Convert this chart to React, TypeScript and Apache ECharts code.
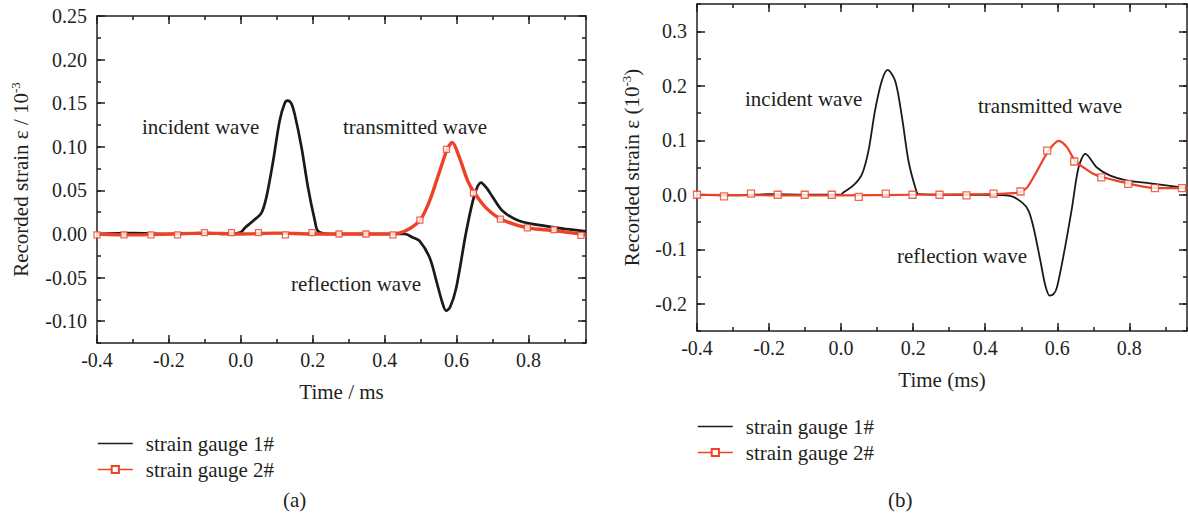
import React, { useEffect, useRef } from 'react';
import * as echarts from 'echarts';

// ---------- data ----------
const xTickValues = [-0.4, -0.2, 0.0, 0.2, 0.4, 0.6, 0.8];
const yTickValuesA = [-0.1, -0.05, 0.0, 0.05, 0.1, 0.15, 0.2, 0.25];
const yTickValuesB = [-0.2, -0.1, 0.0, 0.1, 0.2, 0.3];

// panel (a)
const gauge1TimeA = [-0.4, -0.3, -0.2, -0.1, -0.03, 0.0, 0.011, 0.034, 0.057, 0.071, 0.09, 0.108, 0.122, 0.13, 0.14, 0.15, 0.169, 0.187, 0.206, 0.215, 0.25, 0.35, 0.456, 0.478, 0.497, 0.525, 0.544, 0.56, 0.571, 0.582, 0.599, 0.627, 0.65, 0.668, 0.685, 0.701, 0.729, 0.775, 0.849, 0.9, 0.96];
const gauge1StrainA = [0, 0.001, 0, 0.001, 0, 0.002, 0.007, 0.015, 0.024, 0.042, 0.084, 0.13, 0.15, 0.153, 0.15, 0.137, 0.099, 0.053, 0.015, 0.003, 0, 0, 0, -0.004, -0.008, -0.027, -0.054, -0.078, -0.088, -0.084, -0.062, 0.003, 0.045, 0.059, 0.052, 0.042, 0.026, 0.015, 0.009, 0.006, 0.003];
const gauge2TimeA = [-0.4, -0.3, -0.2, -0.1, 0.0, 0.1, 0.2, 0.3, 0.4, 0.44, 0.469, 0.499, 0.525, 0.553, 0.574, 0.588, 0.608, 0.631, 0.65, 0.682, 0.724, 0.798, 0.872, 0.96];
const gauge2StrainA = [0, -0.001, 0, 0.001, 0, 0.001, 0, 0, 0, 0.001, 0.006, 0.016, 0.038, 0.072, 0.097, 0.105, 0.0875, 0.061, 0.047, 0.03, 0.017, 0.007, 0.004, -0.001];
const markerTimeA = [-0.4, -0.325, -0.25, -0.176, -0.101, -0.026, 0.049, 0.124, 0.198, 0.273, 0.348, 0.423, 0.498, 0.572, 0.647, 0.722, 0.797, 0.871, 0.946];
const markerStrainA = [-0.001, -0.001, -0.001, -0.001, 0.0015, 0.0015, 0.0015, -0.001, 0.0015, 0, 0, -0.001, 0.016, 0.097, 0.047, 0.017, 0.007, 0.005, -0.0015];

// panel (b)
const gauge1TimeB = [-0.4, -0.3, -0.2, -0.1, 0.0, 0.006, 0.034, 0.058, 0.076, 0.094, 0.113, 0.129, 0.15, 0.169, 0.187, 0.206, 0.215, 0.3, 0.4, 0.469, 0.502, 0.52, 0.534, 0.553, 0.567, 0.579, 0.59, 0.599, 0.618, 0.641, 0.659, 0.678, 0.71, 0.747, 0.794, 0.858, 0.96];
const gauge1StrainB = [0, -0.001, 0.001, 0, 0, 0.004, 0.017, 0.038, 0.081, 0.154, 0.209, 0.229, 0.209, 0.142, 0.062, 0.013, 0.001, 0, 0, -0.002, -0.014, -0.029, -0.06, -0.121, -0.167, -0.185, -0.182, -0.17, -0.109, -0.023, 0.05, 0.075, 0.05, 0.035, 0.026, 0.021, 0.012];
const gauge2TimeB = [-0.4, -0.2, 0.0, 0.2, 0.4, 0.48, 0.5, 0.516, 0.544, 0.576, 0.604, 0.627, 0.65, 0.673, 0.701, 0.727, 0.801, 0.877, 0.96];
const gauge2StrainB = [0, -0.001, -0.001, 0, 0.001, 0.003, 0.006, 0.013, 0.044, 0.081, 0.099, 0.087, 0.061, 0.05, 0.038, 0.032, 0.02, 0.012, 0.012];
const markerTimeB = [-0.4, -0.325, -0.25, -0.176, -0.101, -0.026, 0.049, 0.124, 0.198, 0.273, 0.348, 0.423, 0.498, 0.572, 0.647, 0.722, 0.797, 0.871, 0.946];
const markerStrainB = [0, -0.003, 0.002, 0, 0, 0, -0.004, 0.002, 0, 0, -0.001, 0.002, 0.006, 0.081, 0.061, 0.032, 0.02, 0.012, 0.012];

const seriesNames = ['strain gauge 1#', 'strain gauge 2#'];

// ---------- styles ----------
const FONT = 'Liberation Serif';
const INK = '#231f20';
const BLACK = '#1a1a1a';
const RED = '#ee4227';

const zip = (xs: number[], ys: number[]) => xs.map((x, i) => [x, ys[i]]);

function majorX(gridIndex: number, position: 'top' | 'bottom', withLabel: boolean, name?: string, nameGap?: number) {
  return {
    gridIndex, type: 'value', position, min: -0.4, max: 0.96,
    axisLine: { show: true, onZero: false, lineStyle: { color: INK, width: 1.5 } },
    axisTick: { show: true, inside: true, length: 8, customValues: xTickValues, lineStyle: { color: INK, width: 1.5 } },
    axisLabel: {
      show: withLabel, customValues: xTickValues, margin: 7,
      formatter: (v: number) => v.toFixed(1),
      fontFamily: FONT, fontSize: 20, color: INK,
    },
    splitLine: { show: false },
    name: name || '', nameLocation: 'middle', nameGap: nameGap || 0,
    nameTextStyle: { fontFamily: FONT, fontSize: 21, color: INK },
  };
}
function minorX(gridIndex: number, position: 'top' | 'bottom') {
  return {
    gridIndex, type: 'value', position, min: -0.4, max: 0.96, interval: 0.1,
    axisLine: { show: false, onZero: false },
    axisTick: { show: true, inside: true, length: 4, lineStyle: { color: INK, width: 1.5 } },
    axisLabel: { show: false }, splitLine: { show: false },
  };
}
function majorY(gridIndex: number, position: 'left' | 'right', min: number, max: number, ticks: number[], digits: number, withLabel: boolean, name?: string, nameGap?: number) {
  return {
    gridIndex, type: 'value', position, min, max,
    axisLine: { show: true, onZero: false, lineStyle: { color: INK, width: 1.5 } },
    axisTick: { show: true, inside: true, length: 8, customValues: ticks, lineStyle: { color: INK, width: 1.5 } },
    axisLabel: {
      show: withLabel, customValues: ticks, margin: 10,
      formatter: (v: number) => v.toFixed(digits),
      fontFamily: FONT, fontSize: 20, color: INK,
    },
    splitLine: { show: false },
    name: name || '', nameLocation: 'middle', nameGap: nameGap || 0, nameRotate: 90,
    nameTextStyle: {
      fontFamily: FONT, fontSize: 21, color: INK,
      rich: { sup: { fontFamily: FONT, fontSize: 13, color: INK, verticalAlign: 'top', padding: [0, 0, 10, 0] } },
    },
  };
}
function minorY(gridIndex: number, position: 'left' | 'right', min: number, max: number, interval: number) {
  return {
    gridIndex, type: 'value', position, min, max, interval,
    axisLine: { show: false, onZero: false },
    axisTick: { show: true, inside: true, length: 4, lineStyle: { color: INK, width: 1.5 } },
    axisLabel: { show: false }, splitLine: { show: false },
  };
}

export default function App() {
  const ref = useRef<HTMLDivElement>(null);
  useEffect(() => {
    const chart = echarts.init(ref.current!, undefined, { renderer: 'svg' });
    const gA = { left: 97, top: 16, width: 489, height: 327, outerBoundsMode: 'none' };
    const gB = { left: 697, top: 4, width: 490, height: 327, outerBoundsMode: 'none' };

    const redItem = { color: '#ffffff', borderColor: RED, borderWidth: 1.3 };
    const text = (t: string, x: number, y: number) => ({
      type: 'text', x, y,
      style: { text: t, fontFamily: FONT, fontSize: 21, fill: INK, verticalAlign: 'middle', align: 'left' },
    });
    const legend = (left: number, top: number) => ({
      left, top, orient: 'vertical', itemWidth: 35, itemHeight: 9, itemGap: 5, padding: 0,
      selectedMode: false,
      lineStyle: { width: 1.6 },
      data: [
        { name: seriesNames[0], itemStyle: { opacity: 0 } },
        { name: seriesNames[1] },
      ],
      textStyle: { fontFamily: FONT, fontSize: 21, color: INK, lineHeight: 21, padding: [0, 0, 0, 8] },
    });

    chart.setOption({
      animation: false,
      backgroundColor: '#ffffff',
      grid: [gA, gA, gB, gB],
      xAxis: [
        majorX(0, 'bottom', true, 'Time / ms', 38),
        majorX(0, 'top', false),
        minorX(1, 'bottom'),
        minorX(1, 'top'),
        majorX(2, 'bottom', true, 'Time (ms)', 38),
        majorX(2, 'top', false),
        minorX(3, 'bottom'),
        minorX(3, 'top'),
      ],
      yAxis: [
        majorY(0, 'left', -0.125, 0.25, yTickValuesA, 2, true, 'Recorded strain ε / 10{sup|-3}', 65),
        majorY(0, 'right', -0.125, 0.25, yTickValuesA, 2, false),
        minorY(1, 'left', -0.125, 0.25, 0.025),
        minorY(1, 'right', -0.125, 0.25, 0.025),
        majorY(2, 'left', -0.25, 0.35, yTickValuesB, 1, true, 'Recorded strain ε (10{sup|-3})', 54),
        majorY(2, 'right', -0.25, 0.35, yTickValuesB, 1, false),
        minorY(3, 'left', -0.25, 0.35, 0.05),
        minorY(3, 'right', -0.25, 0.35, 0.05),
      ],
      legend: [legend(97, 433), legend(697, 416)],
      series: [
        {
          name: seriesNames[0], type: 'line', xAxisIndex: 0, yAxisIndex: 0,
          data: zip(gauge1TimeA, gauge1StrainA), symbol: 'none', smooth: 0.3,
          color: BLACK, lineStyle: { color: BLACK, width: 2.7 }, z: 2,
        },
        {
          name: seriesNames[1], type: 'line', xAxisIndex: 0, yAxisIndex: 0,
          data: zip(gauge2TimeA, gauge2StrainA), symbol: 'rect', symbolSize: 7, showSymbol: false, smooth: 0.3,
          color: RED, itemStyle: redItem, lineStyle: { color: RED, width: 3.4 }, z: 3,
        },
        {
          name: 'gauge 2# markers (a)', type: 'scatter', xAxisIndex: 0, yAxisIndex: 0,
          data: zip(markerTimeA, markerStrainA), symbol: 'rect', symbolSize: 6,
          itemStyle: redItem, z: 4,
        },
        {
          name: seriesNames[0], type: 'line', xAxisIndex: 4, yAxisIndex: 4,
          data: zip(gauge1TimeB, gauge1StrainB), symbol: 'none', smooth: 0.3,
          color: BLACK, lineStyle: { color: BLACK, width: 1.8 }, z: 2,
        },
        {
          name: seriesNames[1], type: 'line', xAxisIndex: 4, yAxisIndex: 4,
          data: zip(gauge2TimeB, gauge2StrainB), symbol: 'rect', symbolSize: 7, showSymbol: false, smooth: 0.3,
          color: RED, itemStyle: redItem, lineStyle: { color: RED, width: 2.2 }, z: 3,
        },
        {
          name: 'gauge 2# markers (b)', type: 'scatter', xAxisIndex: 4, yAxisIndex: 4,
          data: zip(markerTimeB, markerStrainB), symbol: 'rect', symbolSize: 7,
          itemStyle: redItem, z: 4,
        },
      ],
      graphic: [
        text('incident wave', 142, 127),
        text('transmitted wave', 343, 127),
        text('reflection wave', 291, 284),
        text('incident wave', 745, 99),
        text('transmitted wave', 978, 106),
        text('reflection wave', 897, 256),
        text('(a)', 283, 500),
        text('(b)', 888, 500),
      ],
    });
    return () => chart.dispose();
  }, []);
  return (
    <div
      ref={ref}
      style={{ position: 'fixed', left: 0, top: 0, width: 1188, height: 520, background: '#ffffff' }}
    />
  );
}
